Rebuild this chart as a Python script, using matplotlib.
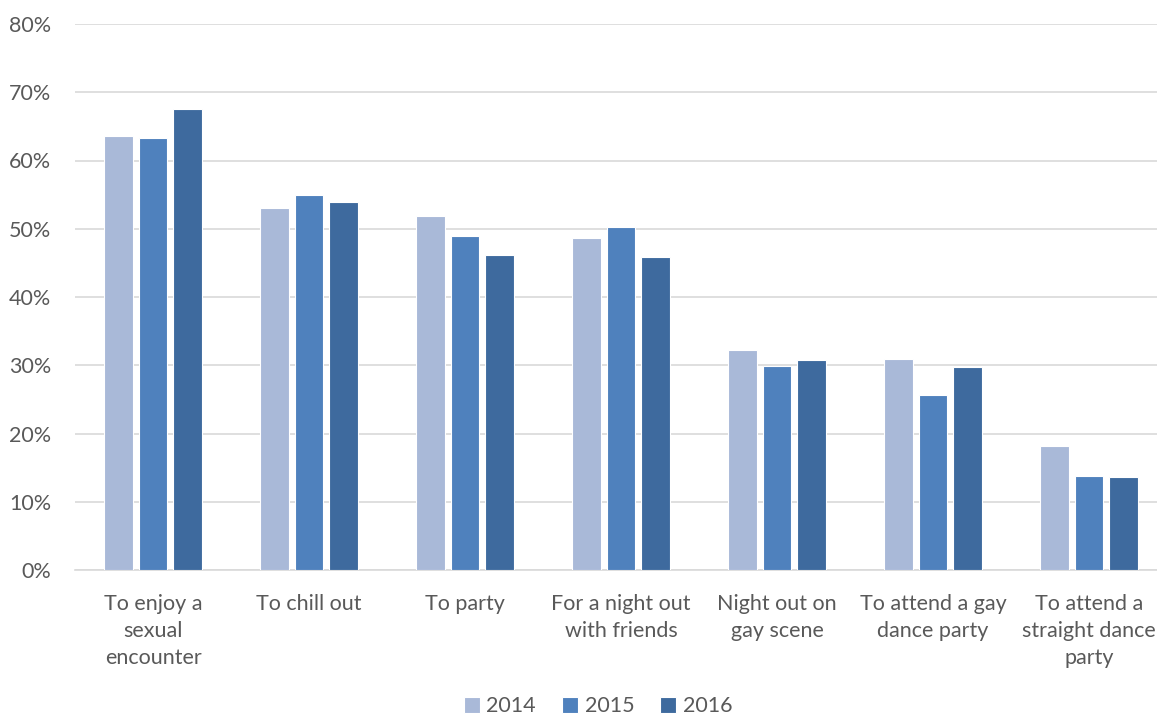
import numpy as np
import matplotlib.pyplot as plt
from matplotlib.ticker import PercentFormatter

# reasons for using, by survey year (%)
categories = ["To enjoy a\nsexual\nencounter", "To chill out", "To party",
              "For a night out\nwith friends", "Night out on\ngay scene",
              "To attend a gay\ndance party", "To attend a\nstraight dance\nparty"]
years = ["2014", "2015", "2016"]
v2014 = [63.6, 53.1, 51.9, 48.6, 32.2, 30.9, 18.2]
v2015 = [63.3, 54.9, 49.0, 50.3, 29.9, 25.6, 13.8]
v2016 = [67.5, 53.9, 46.2, 45.8, 30.8, 29.8, 13.6]
colors = ["#A9B9D8", "#4F81BD", "#3E6A9E"]

plt.rcParams['font.family'] = ['Lato', 'DejaVu Sans']

fig = plt.figure(figsize=(11.57, 7.2), dpi=100)
ax = fig.add_axes([75/1157, 150/720, 1092/1157, 546/720])

x = np.arange(len(categories))
w = 0.18
step = 0.221
for i, vals in enumerate([v2014, v2015, v2016]):
    ax.bar(x + (i - 1)*step, vals, w, color=colors[i], edgecolor="white",
           linewidth=0.8, label=years[i], zorder=3)

ax.set_xlim(-0.5, len(categories) - 0.5)
ax.set_ylim(0, 80)
ax.set_yticks(np.arange(0, 81, 10))
ax.yaxis.set_major_formatter(PercentFormatter(decimals=0))
ax.grid(axis="y", color="#D9D9D9", linewidth=1.2, zorder=0)
ax.set_xticks(x)
ax.set_xticklabels(categories, linespacing=1.45)
ax.tick_params(axis="both", length=0, labelsize=15.5, colors="#595959")
ax.tick_params(axis="x", pad=17)
ax.tick_params(axis="y", pad=17)
for s in ["top", "right", "left"]:
    ax.spines[s].set_visible(False)
ax.spines["bottom"].set_color("#D9D9D9")
ax.spines["bottom"].set_linewidth(1.2)

leg = fig.legend(loc="lower center", bbox_to_anchor=(598/1157, -0.022), ncol=3,
                 frameon=False, fontsize=15.5, handlelength=0.75, handleheight=0.75,
                 handletextpad=0.3, columnspacing=1.2)
for t in leg.get_texts():
    t.set_color("#595959")

fig.savefig("out.png", dpi=100)
